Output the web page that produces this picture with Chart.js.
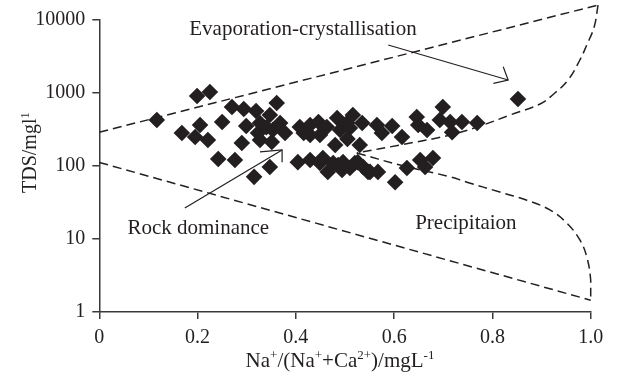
<!DOCTYPE html>
<html>
<head>
<meta charset="utf-8">
<script src="https://cdn.jsdelivr.net/npm/chart.js@4/dist/chart.umd.min.js"></script>
<style>
  html, body { margin: 0; padding: 0; background: #ffffff; }
  #wrap { width: 618px; height: 377px; }
</style>
</head>
<body>
<div id="wrap"><canvas id="gibbs" width="618" height="377"></canvas></div>
<script>
// Samples: Na+/(Na+ + Ca2+) ratio and TDS (mg/L)
const ratio = [
  0.117, 0.168, 0.195, 0.199, 0.205, 0.221, 0.225, 0.242, 0.250, 0.270,
  0.276, 0.290, 0.294, 0.299, 0.315, 0.319, 0.323, 0.327, 0.327, 0.340,
  0.347, 0.347, 0.351, 0.353, 0.361, 0.368, 0.378, 0.408, 0.416, 0.429,
  0.429, 0.446, 0.449, 0.463, 0.480, 0.484, 0.490, 0.504, 0.505, 0.510,
  0.516, 0.530, 0.535, 0.565, 0.575, 0.596, 0.616, 0.646, 0.649, 0.667,
  0.693, 0.699, 0.714, 0.718, 0.738, 0.769, 0.852,
  0.404, 0.429, 0.449, 0.455, 0.465, 0.476, 0.486, 0.494, 0.496, 0.510,
  0.520, 0.526, 0.537, 0.547, 0.551, 0.567, 0.602, 0.626, 0.653, 0.663,
  0.679
];
const tds = [
  427, 283, 250, 910, 365, 227, 1030, 125, 401, 643,
  121, 207, 604, 353, 71, 567, 283, 388, 227, 340,
  500, 97, 213, 311, 730, 388, 283, 342, 283, 365,
  266, 401, 266, 342, 194, 455, 311, 388, 235, 332,
  500, 194, 388, 365, 283, 353, 250, 469, 365, 311,
  427, 643, 401, 290, 401, 388, 828,
  113, 121, 110, 129, 83, 110, 103, 88, 113, 94,
  110, 113, 97, 83, 83, 83, 60, 94, 121, 97,
  129
];

// Axis ticks
const xTickValues = [0, 0.2, 0.4, 0.6, 0.8, 1.0];
const xTickLabels = ['0', '0.2', '0.4', '0.6', '0.8', '1.0'];
const yTickValues = [1, 10, 100, 1000, 10000];
const yTickLabels = ['1', '10', '100', '1000', '10000'];

// Gibbs envelope (dashed boundary)
const upperEdgeX = [0, 1.015];
const upperEdgeY = [290, 16040];
const evapCurveX = [1.015, 1.007, 0.992, 0.978, 0.954, 0.927, 0.897, 0.836, 0.781, 0.714, 0.612, 0.524];
const evapCurveY = [16040, 8020, 4550, 2830, 1507, 1000, 707, 500, 365, 266, 194, 151];
const precipCurveX = [0.524, 0.612, 0.714, 0.748, 0.815, 0.870, 0.917, 0.951, 0.978, 0.992, 1.0, 1.0];
const precipCurveY = [151, 103, 71, 60, 44, 34, 25, 16.6, 9.7, 5.7, 2.74, 1.5];
const lowerEdgeX = [0, 1.0];
const lowerEdgeY = [112, 1.45];

// Annotation arrows
const evapArrowX = [0.588, 0.832];
const evapArrowY = [4545, 1507];
const evapHeadX = [0.822, 0.832, 0.802];
const evapHeadY = [2292, 1507, 1358];
const rockArrowX = [0.174, 0.372];
const rockArrowY = [26.6, 166];
const rockHeadX = [0.327, 0.372, 0.372];
const rockHeadY = [156, 166, 113];

// Region labels: text, x, baseline y
const regionLabels = ['Evaporation-crystallisation', 'Rock dominance', 'Precipitaion'];
const regionLabelX = [0.4145, 0.2015, 0.746];
const regionLabelY = [6233, 11.7, 13.7];

const INK = '#231f20';
const AXIS = '#3a3a3a';
const SERIF = "'Liberation Serif', 'Times New Roman', serif";

const pts = (xs, ys) => xs.map((x, i) => ({ x: x, y: ys[i] }));

function dashed(xs, ys, tension) {
  return {
    data: pts(xs, ys), showLine: true, pointRadius: 0, borderColor: INK,
    borderWidth: 1.5, borderDash: [9, 5], tension: tension, clip: false, order: 2
  };
}
function solid(xs, ys) {
  return {
    data: pts(xs, ys), showLine: true, pointRadius: 0, borderColor: INK,
    borderWidth: 1.2, tension: 0, clip: false, order: 2
  };
}

// Draw text with superscript runs
function richText(ctx, parts, size) {
  const sup = size * 0.62;
  let w = 0;
  parts.forEach(p => {
    ctx.font = (p[1] ? sup : size) + 'px ' + SERIF;
    w += ctx.measureText(p[0]).width;
  });
  return {
    width: w,
    draw(x, y) {
      let cx = x;
      parts.forEach(p => {
        ctx.font = (p[1] ? sup : size) + 'px ' + SERIF;
        ctx.fillText(p[0], cx, p[1] ? y - size * 0.36 : y);
        cx += ctx.measureText(p[0]).width;
      });
    }
  };
}

const labelsPlugin = {
  id: 'gibbsLabels',
  afterDatasetsDraw(chart) {
    const ctx = chart.ctx;
    const xs = chart.scales.x, ys = chart.scales.y;
    const area = chart.chartArea;
    ctx.save();
    ctx.fillStyle = INK;
    ctx.textBaseline = 'alphabetic';
    ctx.textAlign = 'center';
    ctx.font = '21px ' + SERIF;
    regionLabels.forEach((t, i) => {
      ctx.fillText(t, xs.getPixelForValue(regionLabelX[i]), ys.getPixelForValue(regionLabelY[i]));
    });

    ctx.textAlign = 'left';
    // x axis title
    const xt = richText(ctx, [['Na', 0], ['+', 1], ['/(Na', 0], ['+', 1], ['+Ca', 0], ['2+', 1], [')/mgL', 0], ['-1', 1]], 21);
    xt.draw((area.left + area.right) / 2 - 5 - xt.width / 2, area.bottom + 55);

    // y axis title
    ctx.save();
    ctx.translate(area.left - 63.5, (area.top + area.bottom) / 2 + 27);
    ctx.rotate(-Math.PI / 2);
    const yt = richText(ctx, [['TDS/mgl', 0], ['1', 1]], 20);
    yt.draw(0, 0);
    ctx.restore();
    ctx.restore();
  }
};

new Chart(document.getElementById('gibbs').getContext('2d'), {
  type: 'scatter',
  data: {
    datasets: [
      {
        data: pts(ratio, tds), pointStyle: 'rectRot', pointRadius: 8.3,
        backgroundColor: INK, borderColor: INK, borderWidth: 0, order: 0
      },
      dashed(upperEdgeX, upperEdgeY, 0),
      dashed(evapCurveX, evapCurveY, 0.4),
      dashed(precipCurveX, precipCurveY, 0.4),
      dashed(lowerEdgeX, lowerEdgeY, 0),
      solid(evapArrowX, evapArrowY),
      solid(evapHeadX, evapHeadY),
      solid(rockArrowX, rockArrowY),
      solid(rockHeadX, rockHeadY)
    ]
  },
  options: {
    responsive: false,
    animation: false,
    events: [],
    layout: { padding: { top: 20, right: 27.3, bottom: 0, left: 0 } },
    plugins: { legend: { display: false }, tooltip: { enabled: false } },
    scales: {
      x: {
        type: 'linear', min: 0, max: 1,
        afterFit(s) { s.height = 65; },
        afterBuildTicks(s) { s.ticks = xTickValues.map(v => ({ value: v })); },
        ticks: {
          callback: (v, i) => xTickLabels[i], color: INK, padding: 7,
          maxRotation: 0, autoSkip: false, font: { family: SERIF, size: 20 }
        },
        grid: { drawOnChartArea: false, tickLength: 7, color: AXIS, lineWidth: 1.5 },
        border: { color: AXIS, width: 1.5 }
      },
      y: {
        type: 'logarithmic', min: 1, max: 10000,
        afterFit(s) { s.width = 99.3; },
        afterBuildTicks(s) { s.ticks = yTickValues.map(v => ({ value: v })); },
        ticks: {
          callback: (v, i) => yTickLabels[i], color: INK, padding: 7,
          autoSkip: false, font: { family: SERIF, size: 20 }
        },
        grid: { drawOnChartArea: false, tickLength: 7, color: AXIS, lineWidth: 1.5 },
        border: { color: AXIS, width: 1.5 }
      }
    }
  },
  plugins: [labelsPlugin]
});
</script>
</body>
</html>
